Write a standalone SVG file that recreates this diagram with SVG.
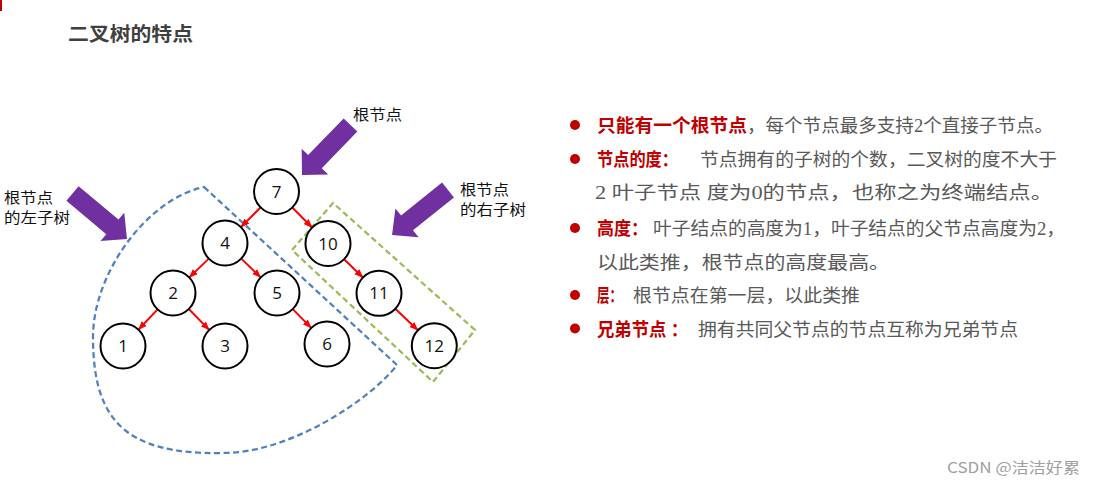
<svg xmlns="http://www.w3.org/2000/svg" width="1096" height="486" viewBox="0 0 1096 486">
<defs>
<style>
.node circle{fill:#fff;stroke:#000;stroke-width:2}
.node text{font-family:"Open Sans","Noto Sans",sans-serif;font-size:17px;fill:#111;text-anchor:middle}
.edge{stroke:#f00;stroke-width:2;fill:none;marker-end:url(#ah)}
.lbl{font-family:"Noto Sans CJK SC",sans-serif;font-size:14.5px;fill:#111}
.big{fill:#7030A0}
.red{font-family:"Liberation Serif","Noto Sans CJK SC",serif;font-size:18.5px;font-weight:bold;fill:#C00000}
.gry{font-family:"Liberation Serif","Noto Sans CJK SC",serif;font-size:18.5px;fill:#595959}
.bul{fill:#C00000}
</style>
<marker id="ah" markerUnits="userSpaceOnUse" markerWidth="10" markerHeight="8" refX="8" refY="3.5" orient="auto">
<path d="M0,0 L9,3.5 L0,7 z" fill="#f00"/>
</marker>
<polygon id="parrow" points="0,-9.5 52,-9.5 52,-18.5 71,0 52,18.5 52,9.5 0,9.5"/>
</defs>
<rect x="0" y="0" width="2" height="11" fill="#C00000"/>
<text x="68" y="41" font-family="Liberation Serif,Noto Sans CJK SC,serif" font-weight="bold" font-size="19" fill="#404040" textLength="125" lengthAdjust="spacingAndGlyphs">二叉树的特点</text>

<g id="outlines" fill="none" stroke-width="2.25" stroke-dasharray="6 3.5">
<path id="left-subtree-outline" stroke="#4F81BD" d="M204,187 L397,365 C370,400 290,453 223,453 C125,455 93,420 93,337 C93,275 145,200 204,187 Z"/>
<polygon id="right-subtree-outline" stroke="#9BBB59" points="292,250 333,203 475,330 433,382"/>
</g>

<g id="purple-arrows" class="big">
<use href="#parrow" transform="translate(350.5,125) rotate(134.1) scale(0.982,1)"/>
<use href="#parrow" transform="translate(72.5,193.5) rotate(39.9)"/>
<use href="#parrow" transform="translate(448,190) rotate(141.2) scale(1.011,1)"/>
</g>

<g id="labels" class="lbl">
<text x="353" y="120" textLength="49" lengthAdjust="spacingAndGlyphs">根节点</text>
<text x="4" y="203" textLength="49" lengthAdjust="spacingAndGlyphs">根节点</text>
<text x="4" y="223" textLength="66" lengthAdjust="spacingAndGlyphs">的左子树</text>
<text x="460" y="195" textLength="49" lengthAdjust="spacingAndGlyphs">根节点</text>
<text x="460" y="215" textLength="66" lengthAdjust="spacingAndGlyphs">的右子树</text>
</g>

<g id="connectors">
<line class="edge" x1="260.5" y1="207.5" x2="241.3" y2="226.7"/>
<line class="edge" x1="292.3" y1="207.5" x2="311.8" y2="227.2"/>
<line class="edge" x1="208.8" y1="258.6" x2="189.6" y2="277.1"/>
<line class="edge" x1="241.2" y1="258.6" x2="260.4" y2="277.1"/>
<line class="edge" x1="157.6" y1="309.4" x2="138.8" y2="329.3"/>
<line class="edge" x1="188.8" y1="309.0" x2="208.9" y2="329.6"/>
<line class="edge" x1="292.8" y1="309.1" x2="310.9" y2="327.6"/>
<line class="edge" x1="344.1" y1="259.2" x2="362.6" y2="277.2"/>
<line class="edge" x1="395.3" y1="308.8" x2="417.6" y2="329.9"/>
</g>

<g id="n7" class="node"><circle cx="276.5" cy="191.5" r="22.5"/><text x="276.5" y="197.5">7</text></g>
<g id="n4" class="node"><circle cx="225" cy="243" r="22.5"/><text x="225" y="249">4</text></g>
<g id="n10" class="node"><circle cx="328" cy="243.5" r="22.5"/><text x="328" y="249.5">10</text></g>
<g id="n2" class="node"><circle cx="173" cy="293" r="22.5"/><text x="173" y="299">2</text></g>
<g id="n5" class="node"><circle cx="277" cy="293" r="22.5"/><text x="277" y="299">5</text></g>
<g id="n11" class="node"><circle cx="379" cy="293.3" r="22.5"/><text x="379" y="299.3">11</text></g>
<g id="n1" class="node"><circle cx="123" cy="346" r="22.5"/><text x="123" y="352">1</text></g>
<g id="n3" class="node"><circle cx="225" cy="346" r="22.5"/><text x="225" y="352">3</text></g>
<g id="n6" class="node"><circle cx="327" cy="344" r="22.5"/><text x="327" y="350">6</text></g>
<g id="n12" class="node"><circle cx="434.3" cy="345.7" r="22.5"/><text x="434.3" y="351.7">12</text></g>

<g id="text-list">
<circle class="bul" cx="575" cy="125" r="5"/>
<circle class="bul" cx="575" cy="159" r="5"/>
<circle class="bul" cx="575" cy="228" r="5"/>
<circle class="bul" cx="575" cy="295" r="5"/>
<circle class="bul" cx="575" cy="328.5" r="5"/>
<text class="red" x="597" y="131.5" textLength="150" lengthAdjust="spacingAndGlyphs">只能有一个根节点</text>
<text class="gry" x="747" y="131.5" textLength="306" lengthAdjust="spacingAndGlyphs">，每个节点最多支持2个直接子节点。</text>
<text class="red" x="597" y="165.5" textLength="81" lengthAdjust="spacingAndGlyphs">节点的度：</text>
<text class="gry" x="700" y="165.5" textLength="357" lengthAdjust="spacingAndGlyphs">节点拥有的子树的个数，二叉树的度不大于</text>
<text class="gry" x="595" y="198.5" textLength="458" lengthAdjust="spacingAndGlyphs">2 叶子节点 度为0的节点，也称之为终端结点。</text>
<text class="red" x="597" y="235" textLength="51" lengthAdjust="spacingAndGlyphs">高度：</text>
<text class="gry" x="653" y="235" textLength="412" lengthAdjust="spacingAndGlyphs">叶子结点的高度为1，叶子结点的父节点高度为2，</text>
<text class="gry" x="597" y="268.5" textLength="293" lengthAdjust="spacingAndGlyphs">以此类推，根节点的高度最高。</text>
<text class="red" x="597" y="302" textLength="25" lengthAdjust="spacingAndGlyphs">层：</text>
<text class="gry" x="633" y="302" textLength="227" lengthAdjust="spacingAndGlyphs">根节点在第一层，以此类推</text>
<text class="red" x="597" y="335.5" textLength="91" lengthAdjust="spacingAndGlyphs">兄弟节点 ：</text>
<text class="gry" x="698" y="335.5" textLength="320" lengthAdjust="spacingAndGlyphs">拥有共同父节点的节点互称为兄弟节点</text>
</g>

<text x="947" y="473" font-family="Noto Sans CJK SC,sans-serif" font-size="15" fill="#a0a0a0" textLength="133" lengthAdjust="spacingAndGlyphs">CSDN @洁洁好累</text>
</svg>
